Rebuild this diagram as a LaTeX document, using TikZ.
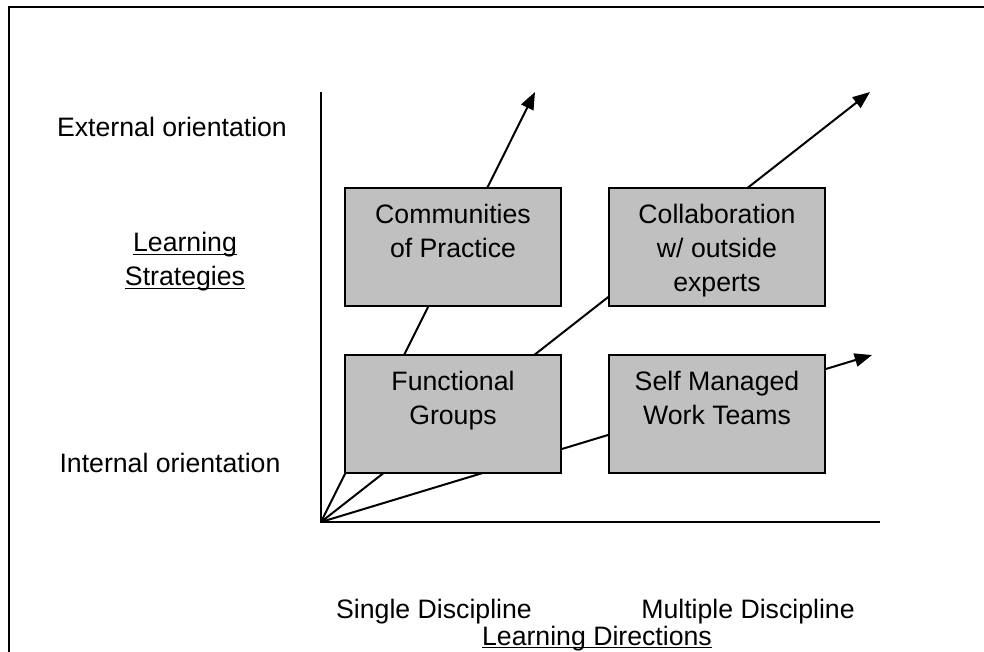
\documentclass[tikz,border=0pt]{standalone}
\usepackage{fontspec}
\setmainfont{Liberation Sans}
\usepackage{xcolor}
\usetikzlibrary{arrows.meta,positioning,calc}
\definecolor{boxgray}{RGB}{192,192,192}
% word-style underline, close under the baseline
\newcommand{\ulabel}[1]{\setbox0\hbox{#1}\rlap{\rule[-2.6pt]{\wd0}{1.3pt}}\box0}

\begin{document}
\begin{tikzpicture}[x=0.75pt,y=-0.75pt,
    font=\fontsize{20}{25.5}\selectfont,
    quad/.style={draw,fill=boxgray,line width=1.5pt,minimum width=162pt,minimum height=88.5pt,inner sep=0pt},
    quadtext/.style={anchor=north,align=center,inner sep=0pt,yshift=-13pt},
    axis/.style={line width=1.5pt},
    trend/.style={line width=1.5pt,-{Triangle[length=13pt,width=10pt]}}]
    \useasboundingbox (0,0) rectangle (984,652);

    % Outer frame (runs off the right and bottom)
    \draw[line width=2pt] (9,652) -- (9,7) -- (984,7);

    % Axes
    \coordinate (o) at (321,522);
    \coordinate (ytop) at (321,92);
    \coordinate (xend) at (880,522);
    \draw[axis] (ytop) -- (o) -- (xend);

    % Growth arrows (behind the boxes)
    \coordinate (tipcop) at (535,92);
    \coordinate (tipcol) at (870,92);
    \coordinate (tipsmt) at (872,355);
    \draw[trend] (o) -- (tipcop);
    \draw[trend] (o) -- (tipcol);
    \draw[trend] (o) -- (tipsmt);

    % Quadrant boxes
    \node[quad] (cop) at (453,247) {};
    \node[quad] (col) at (717,247) {};
    \node[quad] (fun) at (453,414) {};
    \node[quad] (smt) at (717,414) {};
    \node[quadtext] (coptext) at (cop.north) {Communities\\of Practice};
    \node[quadtext] (coltext) at (col.north) {Collaboration\\w/ outside\\experts};
    \node[quadtext] (funtext) at (fun.north) {Functional\\Groups};
    \node[quadtext] (smttext) at (smt.north) {Self Managed\\Work Teams};

    % Axis labels
    \node[anchor=base] (ext) at (172,137) {External orientation};
    \node[align=center] (strat) at (185,262) {\ulabel{Learning}\\\ulabel{Strategies}};
    \node[anchor=base] (int) at (170,472) {Internal orientation};
    \node[anchor=base] (single) at (434,618) {Single Discipline};
    \node[anchor=base] (multi) at (748,618) {Multiple Discipline};
    \node[anchor=base] (dirs) at (597,645) {\ulabel{Learning Directions}};
\end{tikzpicture}
\end{document}
